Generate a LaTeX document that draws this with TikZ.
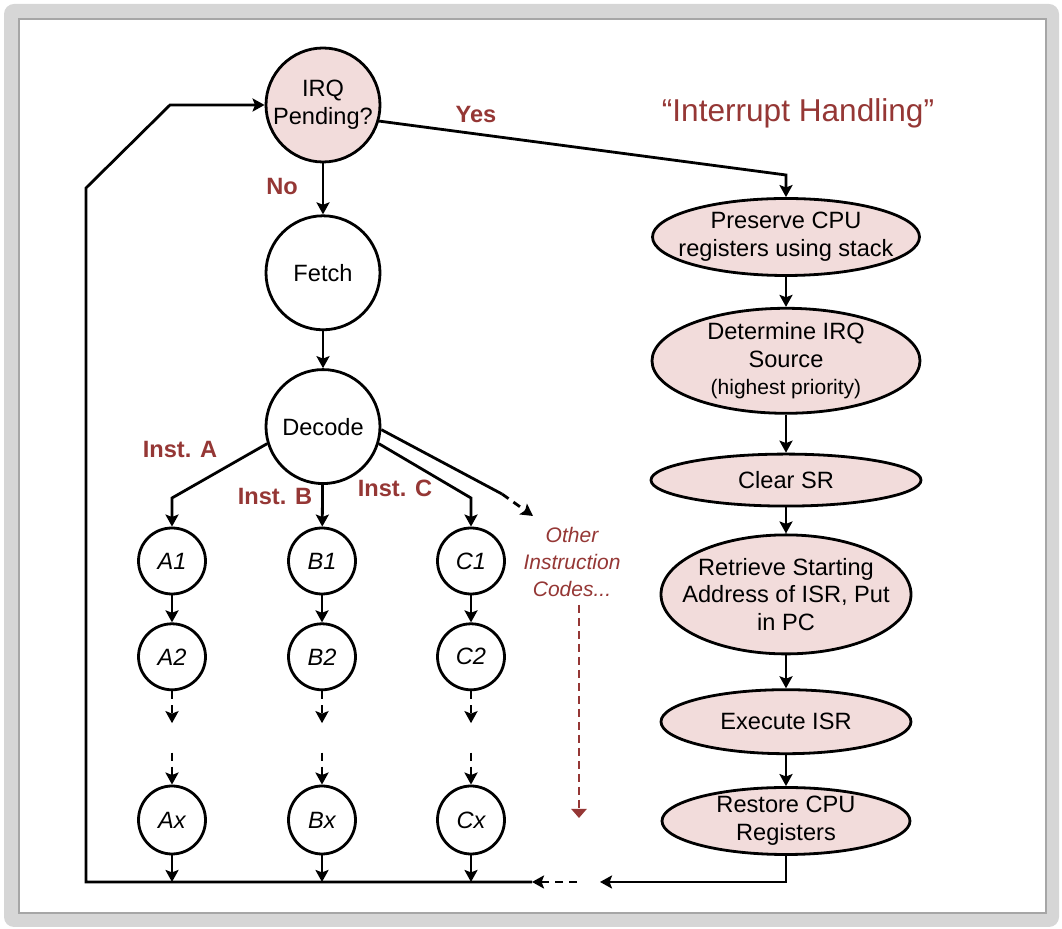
\documentclass[tikz,border=0pt]{standalone}
\usepackage{fontspec}
\setmainfont{Liberation Sans}
\usepackage{tikz}
\usetikzlibrary{positioning, arrows.meta, shapes.geometric}
\definecolor{irqpink}{RGB}{242,220,219}
\definecolor{irqred}{RGB}{149,55,53}
\definecolor{framegray}{RGB}{214,214,214}
\newcommand{\mainfnt}{\fontsize{11.8}{13.8}\selectfont}
\newcommand{\smallfnt}{\fontsize{10.5}{13.5}\selectfont}

\begin{document}
\begin{tikzpicture}[
    x=0.5pt, y=-0.5pt,
    line width=1.4pt,
    state/.style={circle, draw, inner sep=0pt, minimum size=57pt, align=center, font=\mainfnt},
    irqstate/.style={state, fill=irqpink},
    substate/.style={ellipse, draw, inner sep=0pt, minimum width=33.5pt, minimum height=33pt, font=\mainfnt\itshape},
    isr/.style={ellipse, draw, fill=irqpink, inner sep=0pt},
    txt/.style={align=center, font=\mainfnt},
    lbl/.style={text=irqred, font=\mainfnt\bfseries},
    arr/.style={-{Stealth[length=6pt, width=6.5pt, inset=1.2pt]}},
    darr/.style={arr, dash pattern=on 4pt off 3pt},
    oarr/.style={-{Triangle[length=4.5pt, width=7.5pt]}, draw=irqred, line width=1.1pt, dash pattern=on 4pt off 2.5pt}
  ]
  \useasboundingbox (0,0) rectangle (1062,929);
  \fill[framegray, rounded corners=5pt] (4,4) rectangle (1059,927);
  \fill[white] (19,19) rectangle (1046,913);
  \draw[gray!70, line width=0.8pt] (19,19) rectangle (1046,913);

  \node[irqstate] (irq) at (323,105) {IRQ\\Pending?};
  \node[state, below=25.5pt of irq] (fetch) {Fetch};
  \node[state, below=18.5pt of fetch] (decode) {Decode};

  \foreach \c/\ltr/\cx in {a/A/172, b/B/322, c/C/471} {
    \node[substate] (\c-1) at (\cx,561) {\ltr1};
    \node[substate, below=13.5pt of \c-1] (\c-2) {\ltr2};
    \node[substate, minimum height=34pt] (\c-x) at (\cx,820) {\ltr x};
  }

  \node[isr, minimum width=133.5pt, minimum height=38.5pt,
    label={[txt]center:{Preserve CPU\\registers using stack}}] (pres) at (786,237) {};
  \node[isr, minimum width=134pt, minimum height=52.5pt, below=15pt of pres,
    label={[txt]center:{Determine IRQ\\Source\\{\smallfnt (highest priority)}}}] (det) {};
  \node[isr, minimum width=135pt, minimum height=26pt, below=19pt of det,
    label={[txt]center:{Clear SR}}] (clr) {};
  \node[isr, minimum width=125pt, minimum height=59.5pt, below=13pt of clr,
    label={[txt]center:{Retrieve Starting\\Address of ISR, Put\\in PC}}] (ret) {};
  \node[isr, minimum width=125pt, minimum height=32pt, below=16.5pt of ret,
    label={[txt]center:{Execute ISR}}] (exe) {};
  \node[isr, minimum width=124pt, minimum height=33.5pt, below=15.5pt of exe,
    label={[txt]center:{Restore CPU\\Registers}}] (rest) {};

  \node[lbl] (no) at (282,187) {No};
  \node[lbl] (yes) at (476,115) {Yes};
  \node[lbl] (insta) at (180,450) {Inst. A};
  \node[lbl] (instb) at (275,497) {Inst. B};
  \node[lbl] (instc) at (395,488) {Inst. C};
  \node[text=irqred, font=\fontsize{15.8}{18}\selectfont] (title) at (798,113) {“Interrupt Handling”};
  \node[txt, text=irqred, font=\smallfnt\itshape] (other) at (572,562) {Other\\Instruction\\Codes...};

  \coordinate (abend) at (172,498);
  \coordinate (cbend) at (471,498);
  \coordinate (othbend) at (502,494);
  \coordinate (othtip) at (533,516);
  \coordinate (othend) at (579,818);
  \coordinate (yesbend) at (786,175);
  \coordinate (gapr) at (600,882);
  \coordinate (gapl) at (577,882);
  \coordinate (joinl) at (532,882);
  \coordinate (loopbl) at (86,882);
  \coordinate (looptl) at (86,188);
  \coordinate (loopt) at (170,105);

  \draw[arr] (irq) -- (fetch);
  \draw[arr] (fetch) -- (decode);
  \draw[arr] (irq.-16) -- (yesbend) -- (pres);
  \draw[arr] (decode.197) -- (abend) -- (a-1);
  \draw[arr] (decode) -- (b-1);
  \draw[arr] (decode.-17) -- (cbend) -- (c-1);
  \draw (decode.-3) -- (othbend);
  \draw[darr] (othbend) -- (othtip);
  \draw[oarr] (other.south -| othend) -- (othend);

  \foreach \c in {a,b,c} {
    \draw[arr] (\c-1) -- (\c-2);
    \draw[darr] (\c-2.south) -- ++(0,32);
    \draw[darr] ([yshift=16pt]\c-x.north) -- (\c-x);
    \draw[arr] (\c-x) -- (\c-x |- loopbl);
  }

  \draw[arr] (pres) -- (det);
  \draw[arr] (det) -- (clr);
  \draw[arr] (clr) -- (ret);
  \draw[arr] (ret) -- (exe);
  \draw[arr] (exe) -- (rest);
  \draw[arr] (rest) |- (gapr);
  \draw[darr] (gapl) -- (joinl);
  \draw[arr] (joinl) -- (loopbl) -- (looptl) -- (loopt) -- (irq);
\end{tikzpicture}
\end{document}
